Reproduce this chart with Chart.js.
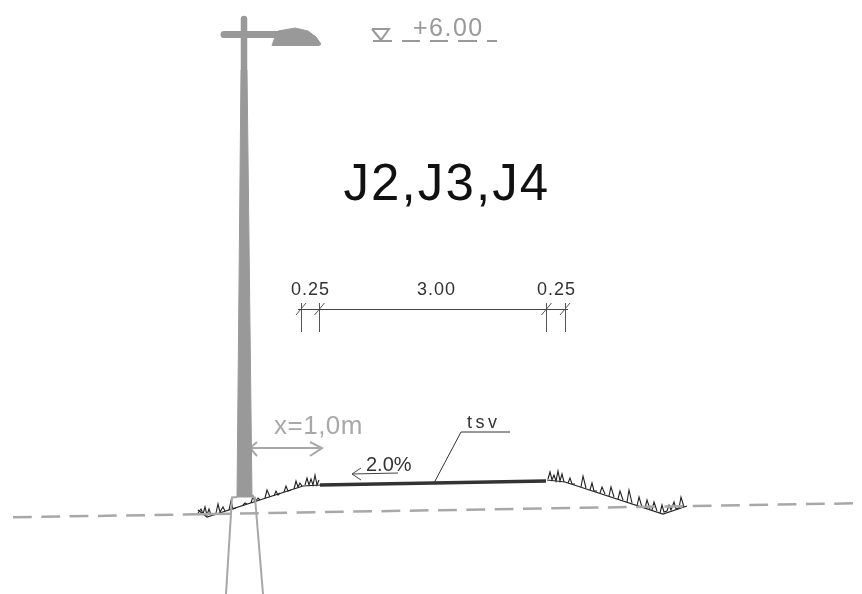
<!DOCTYPE html>
<html>
<head>
<meta charset="utf-8">
<title>J2,J3,J4</title>
<script src="https://cdn.jsdelivr.net/npm/chart.js@4"></script>
<style>
    html, body { margin: 0; padding: 0; background: #fff; }
    canvas { display: block; }
</style>
</head>
<body>
<canvas id="sectionChart" width="862" height="594"></canvas>
<script>
// Cross section values
const poleX = [241, 247, 252, 237];
const poleY = [70, 70, 497, 497];
const mastX = [244, 244];
const mastY = [19, 70];
const armX = [224, 278];
const armY = [34.5, 34.5];
const lampX = [272, 275, 278, 295, 308, 316, 321, 319];
const lampY = [45.5, 37, 31, 28, 31, 37, 44, 45.5];
const lampHatchX = [282, 296, null, 278, 292, null, 294, 312, null, 280, 300, null, 298, 316];
const lampHatchY = [33, 32, null, 38, 37, null, 36, 37, null, 42, 42, null, 41, 41];
const poleHatchX = [244, 244.5, null, 224, 240, null, 244, 244.6];
const poleHatchY = [20, 40, null, 34, 34.5, null, 100, 440];

const footLeftX = [237, 232, 226];
const footLeftY = [497, 497.5, 594];
const footRightX = [252, 255, 263];
const footRightY = [497, 497.5, 594];

const levelMarkX = [372, 389, 381, 372, null, 373, 392];
const levelMarkY = [29, 29, 40, 29, null, 41, 41];
const levelDashX = [402, 420, null, 430, 448, null, 458, 477, null, 487, 497];
const levelDashY = [41, 41, null, 41, 41, null, 41, 41, null, 41, 41];

const dimLineX = [298, 568];
const dimLineY = [309.5, 309.5];
const dimTicksX = [301.5, 301.5, null, 319.5, 319.5, null, 546.5, 546.5, null, 565.5, 565.5,
    null, 296, 306, null, 314.5, 324.5, null, 541.5, 551.5, null, 560, 570];
const dimTicksY = [303, 332, null, 303, 332, null, 303, 332, null, 303, 332,
    null, 315, 303, null, 315, 303, null, 315, 303, null, 315, 303];

const offsetArrowX = [257, 250, 257, null, 251, 322, null, 310, 322, 310];
const offsetArrowY = [442, 448, 456, null, 448, 448, null, 442, 448, 456];
const slopeArrowX = [361, 352, 361, null, 352, 398];
const slopeArrowY = [468, 474, 480, null, 474, 473];
const leaderX = [434, 461, 510];
const leaderY = [483, 432, 432];

const groundLeftX = [13, 183];
const groundLeftY = [517.3, 514.5];
const groundMidX = [183, 231];
const groundMidY = [514.5, 513.7];
const groundRightX = [240, 854];
const groundRightY = [513.5, 503.3];

const roadX = [320, 546];
const roadY = [485, 481];
const bankLeftX = [198, 207, 303, 320];
const bankLeftY = [510, 517, 486, 485];
const bankRightX = [547, 565, 663, 687];
const bankRightY = [480, 482, 514, 506];

// grass drawn as tufts along the banks, gaps between them
const grassLeftX = [198, 201, 203, 205, 207, 209, 211, null, 216, 218, 220, 223, 225, null, 229, 231, 233, 236, null,
    243, 245, 247, null, 251, 253, 255, 258, 260, null, 265, 267, 270, null, 274, 276, 278, 280, null,
    284, 286, 288, 291, null, 294, 296, 298, 300, 302, null, 305, 307, 309, 311, 313, 315, 317, 319];
const grassLeftY = [513, 509, 514, 507, 515, 509, 515, null, 513, 504, 512, 507, 511, null, 510, 501, 509, 508, null,
    505, 503, 504, null, 503, 496, 502, 498, 500, null, 498, 490, 497, null, 496, 491, 495, 493, null,
    492, 486, 491, 490, null, 489, 481, 487, 483, 486, null, 485, 478, 485, 479, 485, 475, 485, 480];
const grassRightX = [548, 550, 552, 554, 556, 558, 560, 562, 564, null, 568, 570, 572, 575, null, 581, 583, 586, null,
    590, 592, 594, 597, null, 600, 602, 605, null, 609, 611, 614, null, 618, 620, 623, null, 627, 629, 632,
    null, 637, 639, 642, null, 645, 647, 650, null, 652, 654, 657, null, 660, 662, 664, 667, 669, 671, 674, 676, 679, 681, 684];
const grassRightY = [479, 472, 480, 475, 481, 471, 481, 474, 482, null, 483, 478, 484, 484, null, 487, 476, 488, null,
    490, 483, 491, 491, null, 493, 487, 494, null, 496, 487, 497, null, 499, 491, 500, null, 502, 490, 503,
    null, 506, 497, 507, null, 508, 500, 509, null, 510, 502, 511, null, 513, 505, 512, 511, 505, 510, 502, 509, 508, 497, 507];

const labelTexts = ['+6.00', 'J2,J3,J4', '0.25', '3.00', '0.25', 'x=1,0m', '2.0%', 'tsv'];
const labelX = [413, 343.5, 291, 417, 537, 274, 366, 467];
const labelY = [36, 200, 295, 295, 295, 434, 471, 428];

const GREY = '#999999';
const LIGHT_GREY = '#a8a8a8';
const INK = '#333333';

function series(xs, ys, color, width, extra)
{
    return Object.assign({
        data: xs.map((x, i) => ({ x: x, y: ys[i] })),
        showLine: true,
        borderColor: color,
        borderWidth: width,
        pointRadius: 0,
        tension: 0,
        fill: false,
        clip: false,
    }, extra || {});
}

const labelStyles = [
    { font: '25px "Liberation Sans"', color: GREY, spacing: '1.5px' },
    { font: '51px "Liberation Sans"', color: '#111111', spacing: '2.1px' },
    { font: '18px "Liberation Sans"', color: INK, spacing: '1px' },
    { font: '18px "Liberation Sans"', color: INK, spacing: '1px' },
    { font: '18px "Liberation Sans"', color: INK, spacing: '1px' },
    { font: '26px "Liberation Sans"', color: LIGHT_GREY, spacing: '0.5px' },
    { font: '20px "Liberation Sans"', color: INK, spacing: '0px' },
    { font: '18px "Liberation Sans"', color: INK, spacing: '3.5px' },
];

// Chart.js has no free text marks, so the drawing labels go on the scales here
const drawingLabels = {
    id: 'drawingLabels',
    afterDatasetsDraw(chart) {
        const ctx = chart.ctx;
        ctx.save();
        ctx.textAlign = 'left';
        ctx.textBaseline = 'alphabetic';
        labelTexts.forEach((text, i) => {
            ctx.font = labelStyles[i].font;
            ctx.fillStyle = labelStyles[i].color;
            ctx.letterSpacing = labelStyles[i].spacing;
            ctx.fillText(text, chart.scales.x.getPixelForValue(labelX[i]), chart.scales.y.getPixelForValue(labelY[i]));
        });
        ctx.restore();
    }
};

const ctx = document.getElementById('sectionChart').getContext('2d');
const sectionChart = new Chart(ctx, {
    type: 'scatter',
    data: {
        datasets: [
            series(groundLeftX, groundLeftY, LIGHT_GREY, 2.5, { borderDash: [18.8, 9.5] }),
            series(groundMidX, groundMidY, LIGHT_GREY, 2.5),
            series(groundRightX, groundRightY, LIGHT_GREY, 2.5, { borderDash: [18.8, 9.5] }),
            series(footLeftX, footLeftY, LIGHT_GREY, 2),
            series(footRightX, footRightY, LIGHT_GREY, 2),
            series(poleX.concat(poleX[0]), poleY.concat(poleY[0]), GREY, 1, { fill: 'shape', backgroundColor: GREY }),
            series(mastX, mastY, GREY, 6.5, { borderCapStyle: 'round' }),
            series(armX, armY, GREY, 7, { borderCapStyle: 'round' }),
            series(lampX.concat(lampX[0]), lampY.concat(lampY[0]), GREY, 1, { fill: 'shape', backgroundColor: GREY }),
            series(lampHatchX, lampHatchY, '#d0d0d0', 1),
            series(poleHatchX, poleHatchY, '#b4b4b4', 0.8),
            series(levelMarkX, levelMarkY, GREY, 2),
            series(levelDashX, levelDashY, GREY, 2),
            series(dimLineX, dimLineY, '#444444', 1),
            series(dimTicksX, dimTicksY, '#555555', 1),
            series(offsetArrowX, offsetArrowY, LIGHT_GREY, 2),
            series(slopeArrowX, slopeArrowY, '#444444', 1),
            series(leaderX, leaderY, INK, 1),
            series(bankLeftX, bankLeftY, '#222222', 1.2),
            series(bankRightX, bankRightY, '#222222', 1.2),
            series(grassLeftX, grassLeftY, '#222222', 1.1),
            series(grassRightX, grassRightY, '#222222', 1.1),
            series(roadX, roadY, INK, 3.5),
        ]
    },
    options: {
        responsive: false,
        animation: false,
        events: [],
        layout: { padding: 0 },
        plugins: {
            legend: { display: false },
            tooltip: { enabled: false },
        },
        scales: {
            x: { type: 'linear', min: 0, max: 862, display: false },
            y: { type: 'linear', min: 0, max: 594, reverse: true, display: false },
        }
    },
    plugins: [drawingLabels]
});
</script>
</body>
</html>
